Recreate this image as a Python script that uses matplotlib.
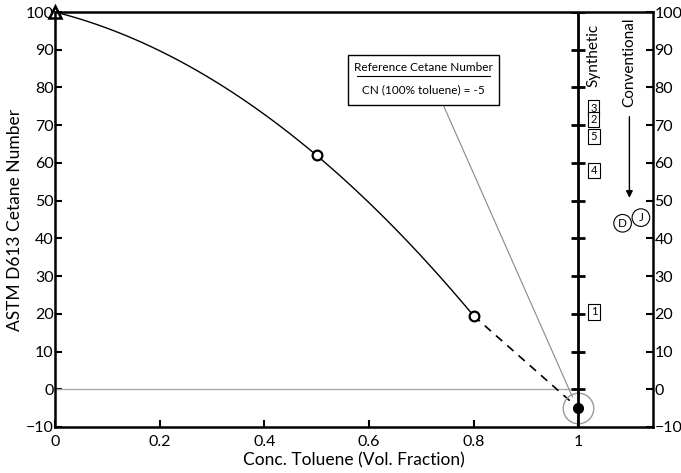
import matplotlib
matplotlib.use('Agg')
import matplotlib.pyplot as plt
import numpy as np

plt.rcParams['font.family'] = ['Lato', 'DejaVu Sans']

# measured blends (toluene fraction, cetane number)
blend_x = [0.0, 0.5, 0.8]
blend_cn = [100, 62, 19.5]
toluene_x = 1.0
toluene_cn = -5

# synthetic fuels (label, CN) and conventional fuels (label, x, CN)
synth_labels = ['3', '2', '5', '4', '1']
synth_cn = [74.5, 71.5, 67, 58, 20.5]
synth_x = 1.03
conv_labels = ['D', 'J']
conv_x = [1.085, 1.12]
conv_cn = [44, 45.5]

yticks = list(range(-10, 101, 10))
xticks = [0, 0.2, 0.4, 0.6, 0.8, 1]

# quadratic through the measured blends, dashed extrapolation to pure toluene
coef = np.polyfit(blend_x, blend_cn, 2)
xs_solid = np.linspace(0, 0.8, 100)

fig = plt.figure(figsize=(6.81, 4.73), dpi=100)
ax = fig.add_axes([0.0808, 0.0973, 0.878, 0.8773])

ax.axhline(0, xmin=0, xmax=1 / 1.143, color='#aaaaaa', lw=1)
ax.plot(xs_solid, np.polyval(coef, xs_solid), color='black', lw=1)
ax.plot([blend_x[-1], toluene_x], [blend_cn[-1], toluene_cn], color='black', lw=1.2,
        ls=(0, (5, 4)))

ax.plot(blend_x[1:], blend_cn[1:], 'o', mfc='white', mec='black', ms=7, mew=1.6)
ax.plot(blend_x[0], blend_cn[0], '^', mfc='white', mec='black', ms=8, mew=1.8, clip_on=False)
ax.plot(toluene_x, toluene_cn, 'o', mfc='none', mec='#999999', ms=22, mew=1)
ax.plot(toluene_x, toluene_cn, 'o', color='black', ms=7)

# vertical divider at x = 1 with crossing ticks
ax.axvline(1, color='black', lw=2)
ax.plot([1] * len(yticks[1:]), yticks[1:], '_', color='black', ms=10, mew=2)

# annotation box
ax.plot([0.742, 0.989], [75.4, -2], color='#888888', lw=0.8)
ax.add_patch(plt.Rectangle((0.56, 75.4), 0.289, 13.2, fc='white', ec='black', lw=1, zorder=5))
ax.text(0.7045, 85.3, 'Reference Cetane Number', ha='center', va='center', fontsize=8.5, zorder=6)
ax.plot([0.578, 0.831], [83.0, 83.0], color='black', lw=0.8, zorder=6)
ax.text(0.7045, 79.3, 'CN (100% toluene) = -5', ha='center', va='center', fontsize=8.5, zorder=6)

for lab, cn in zip(synth_labels, synth_cn):
    ax.text(synth_x, cn, lab, ha='center', va='center', fontsize=8,
            bbox=dict(boxstyle='square,pad=0.22', fc='white', ec='black', lw=0.8))
for lab, x, cn in zip(conv_labels, conv_x, conv_cn):
    ax.text(x, cn, lab, ha='center', va='center', fontsize=8.5,
            bbox=dict(boxstyle='circle,pad=0.28', fc='white', ec='black', lw=0.8))

ax.text(1.03, 96.8, 'Synthetic', rotation=90, ha='center', va='top', fontsize=11)
ax.text(1.098, 98.5, 'Conventional', rotation=90, ha='center', va='top', fontsize=11)
ax.annotate('', xy=(1.098, 50), xytext=(1.098, 73),
            arrowprops=dict(arrowstyle='-|>', color='black', lw=1, mutation_scale=10))

ax.set_xlim(0, 1.143)
ax.set_ylim(-10, 100)
ax.set_xticks(xticks)
ax.set_xticklabels(['0', '0.2', '0.4', '0.6', '0.8', '1'])
ax.set_yticks(yticks)
ax.tick_params(direction='in', length=5, width=1.5, labelsize=11.5,
               left=True, right=True, labelleft=True, labelright=True, pad=1)
ax.tick_params(axis='x', pad=6)
for s in ax.spines.values():
    s.set_linewidth(1.8)

ax.set_xlabel('Conc. Toluene (Vol. Fraction)', fontsize=12.5, labelpad=2)
ax.set_ylabel('ASTM D613 Cetane Number', fontsize=12.5, labelpad=2)

fig.savefig('out.png', dpi=100)
